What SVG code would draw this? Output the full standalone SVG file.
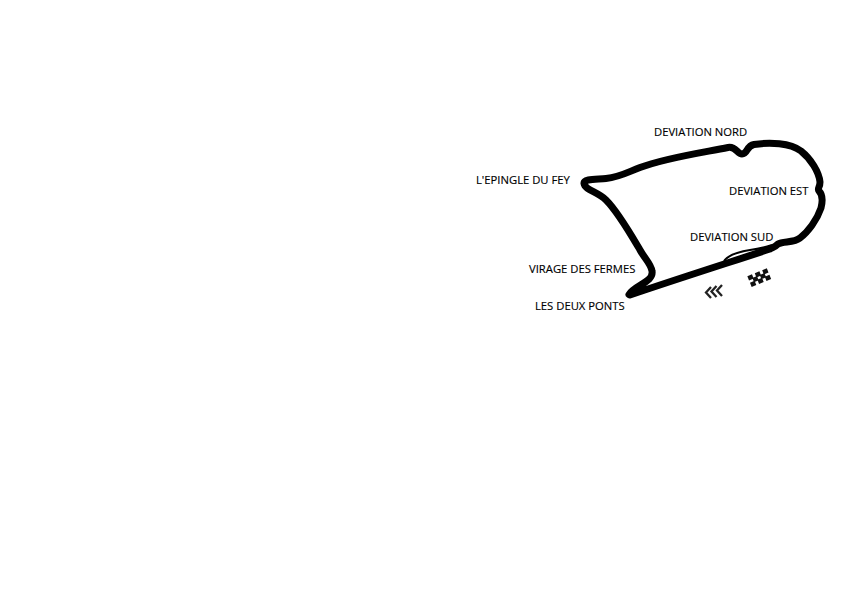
<svg xmlns="http://www.w3.org/2000/svg" width="844" height="600" viewBox="0 0 844 600">
<style>
.t{font-family:"Open Sans","Noto Sans",sans-serif;font-size:11.25px;fill:#000;stroke:#000;stroke-width:.15}
.track{fill:none;stroke:#000;stroke-width:7;stroke-linecap:round;stroke-linejoin:round}
</style>
<rect width="844" height="600" fill="#fff"/>
<g id="connectors">
<path class="track" d="M629 294.500 C635 285 654 282 652 271 C651 264 645 259 640 250 C630 233 618 212 606 200 C598 192 585 190 584 183.500 C583.500 178.500 597 179.500 606 178.500 C620 177 628 172 640 167.500 C665 158 700 153 728 147.500 C736 146 737 154 742 154 C748 154 746 146 754 144.500 C770 142 790 143 801 151 C811 159 819 172 820 182 C820 188 817 188 819 191 C823 195 823 200 821 208 C817 220 808 232 800 238 C794 243 783 241 778 244 C775 247 774 247 770 249 C740 259 680 278 630 295"/>
<path fill="none" stroke="#000" stroke-width="2" d="M724 261 C728 255 738 252 750 250 C758 249 766 247 772 245"/>
</g>
<g id="start" transform="translate(748 276.500) rotate(-22)">
<path fill="#111" d="M-.5 -.5h5v4.500h-5zM7.500 -.5h5v4.500h-5zM15.500 -.5h5v4.500h-5zM3.500 3h5v4.500h-5zM11.500 3h5v4.500h-5zM-.5 6.500h5v4.500h-5zM7.500 6.500h5v4.500h-5zM15.500 6.500h5v4.500h-5z"/>
</g>
<g id="direction" fill="none" stroke="#222" stroke-width="2.300">
<path d="M711 287l-5 5.500 5 5.500M716.500 286l-5 5.500 5 5.500M722 285l-5 5.500 5 5.500"/>
</g>
<g id="n1"><text class="t" x="654" y="136">DEVIATION NORD</text></g>
<g id="n2"><text class="t" x="476" y="184">L'EPINGLE DU FEY</text></g>
<g id="n3"><text class="t" x="729" y="195">DEVIATION EST</text></g>
<g id="n4"><text class="t" x="690" y="241">DEVIATION SUD</text></g>
<g id="n5"><text class="t" x="529" y="273">VIRAGE DES FERMES</text></g>
<g id="n6"><text class="t" x="535" y="310">LES DEUX PONTS</text></g>
</svg>
